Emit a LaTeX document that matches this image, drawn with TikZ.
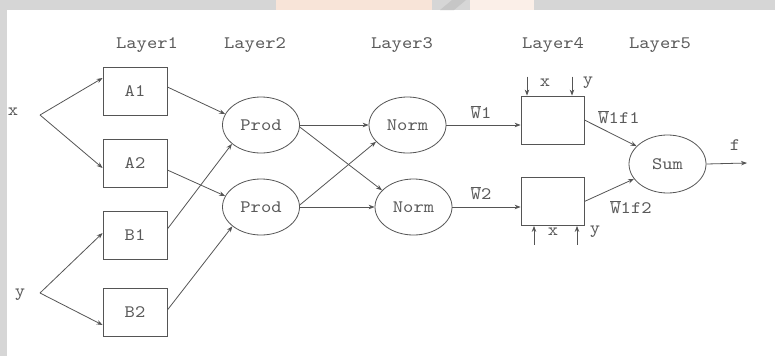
\documentclass[tikz,border=0pt]{standalone}
\usepackage{fontspec}
\setmonofont[FakeStretch=1.12]{lmmono10-regular.otf}
\usetikzlibrary{arrows.meta,shapes.geometric}
\definecolor{ink}{HTML}{555555}
\definecolor{txt}{HTML}{5A5A5A}
\definecolor{band}{HTML}{D6D6D6}
\definecolor{peach}{HTML}{F8E4D8}
\newcommand\ovl[1]{$\overline{\hbox{#1}}$}
\begin{document}
\begin{tikzpicture}[x=1pt,y=-1pt,
  every node/.style={font=\ttfamily\fontsize{17.5}{20}\selectfont, text=txt},
  blk/.style={draw=ink, line width=0.8pt, minimum width=64pt, minimum height=48pt, inner sep=0pt},
  oval/.style={ellipse, draw=ink, line width=0.8pt, minimum width=77pt, minimum height=56pt, inner sep=0pt},
  lbl/.style={inner sep=0pt},
  conn/.style={draw=ink, line width=0.8pt, -{Stealth[length=6pt,width=4.5pt]}}]
\useasboundingbox (0,0) rectangle (775,356);
\fill[white] (0,0) rectangle (775,356);
% frame strips
\fill[band] (0,0) rectangle (775,10);
\fill[band] (0,0) rectangle (7,356);
\fill[peach] (276,0) rectangle (432,10);
\fill[peach!60!white] (470,0) rectangle (534,10);
\fill[gray!45] (440,10) -- (452,0) -- (466,0) -- (454,10) -- cycle;

% layer titles
\node[lbl] (t1) at (147,45) {Layer1};
\node[lbl] (t2) at (255,45) {Layer2};
\node[lbl] (t3) at (402,45) {Layer3};
\node[lbl] (t4) at (553,45) {Layer4};
\node[lbl] (t5) at (660,45) {Layer5};

% inputs
\node[lbl] (xin) at (13,112) {x};
\node[lbl] (yin) at (20,295) {y};
\coordinate (xo) at (40,115);
\coordinate (yo) at (40,293);

% layer 1
\node[blk] (A1) at (135,91.5) {A1};
\node[blk] (A2) at (135,163) {A2};
\node[blk] (B1) at (135,235.5) {B1};
\node[blk] (B2) at (135,312) {B2};

% layer 2
\node[oval] (P1) at (261,125) {Prod};
\node[oval] (P2) at (261,207) {Prod};

% layer 3
\node[oval] (N1) at (407.5,125) {Norm};
\node[oval] (N2) at (413.5,207) {Norm};

% layer 4
\node[blk, minimum width=63pt] (C1) at (552.5,120) {};
\node[blk, minimum width=63pt] (C2) at (552.5,201.5) {};

% layer 5
\node[oval, minimum height=58pt] (S) at (667.5,164) {Sum};
\coordinate (fo) at (747,163);
\node[lbl] (fl) at (735,145) {f};

% edge labels
\node[lbl] (w1) at (481,112) {\ovl{W}1};
\node[lbl] (w2) at (481,193) {\ovl{W}2};
\node[lbl] (w1f1) at (619,117) {\ovl{W}1f1};
\node[lbl] (w1f2) at (631,207) {\ovl{W}1f2};

% inputs to layer 1
\draw[conn] (xo) -- ([yshift=13.5pt]A1.west);
\draw[conn] (xo) -- ([yshift=-5pt]A2.west);
\draw[conn] (yo) -- ([yshift=2.5pt]B1.west);
\draw[conn] (yo) -- ([yshift=-13pt]B2.west);

% layer 1 to layer 2
\draw[conn] ([yshift=4.5pt]A1.east) -- (P1.163);
\draw[conn] ([yshift=6.5pt]B1.east) -- (P1.213);
\draw[conn] ([yshift=-7pt]A2.east) -- (P2.163);
\draw[conn] ([yshift=2pt]B2.east) -- (P2.214);

% layer 2 to layer 3
\draw[conn] (P1.east) -- (N1.west);
\draw[conn] (P1.-3) -- (N2.152);
\draw[conn] (P2.east) -- (N2.west);
\draw[conn] (P2.3) -- (N1.208);

% layer 3 to layer 4
\draw[conn] (N1.east) -- (N1.east -| C1.west);
\draw[conn] (N2.east) -- (N2.east -| C2.west);

% x, y feeds into layer 4
\coordinate (c1x) at ([xshift=-25.5pt,yshift=19pt]C1.north);
\coordinate (c1y) at ([xshift=19.5pt,yshift=19pt]C1.north);
\coordinate (c2x) at ([xshift=-18.5pt,yshift=-19pt]C2.south);
\coordinate (c2y) at ([xshift=24.5pt,yshift=-19pt]C2.south);
\draw[conn] (c1x) -- (c1x |- C1.north);
\draw[conn] (c1y) -- (c1y |- C1.north);
\draw[conn] (c2x) -- (c2x |- C2.south);
\draw[conn] (c2y) -- (c2y |- C2.south);
\node[lbl] (x4a) at (545,83) {x};
\node[lbl] (y4a) at (588,83) {y};
\node[lbl] (x4b) at (553,232) {x};
\node[lbl] (y4b) at (595,232) {y};

% layer 4 to layer 5, output
\draw[conn] (C1.east) -- (S.150);
\draw[conn] (C2.east) -- (S.204);
\draw[conn] (S.east) -- (fo);
\end{tikzpicture}
\end{document}
